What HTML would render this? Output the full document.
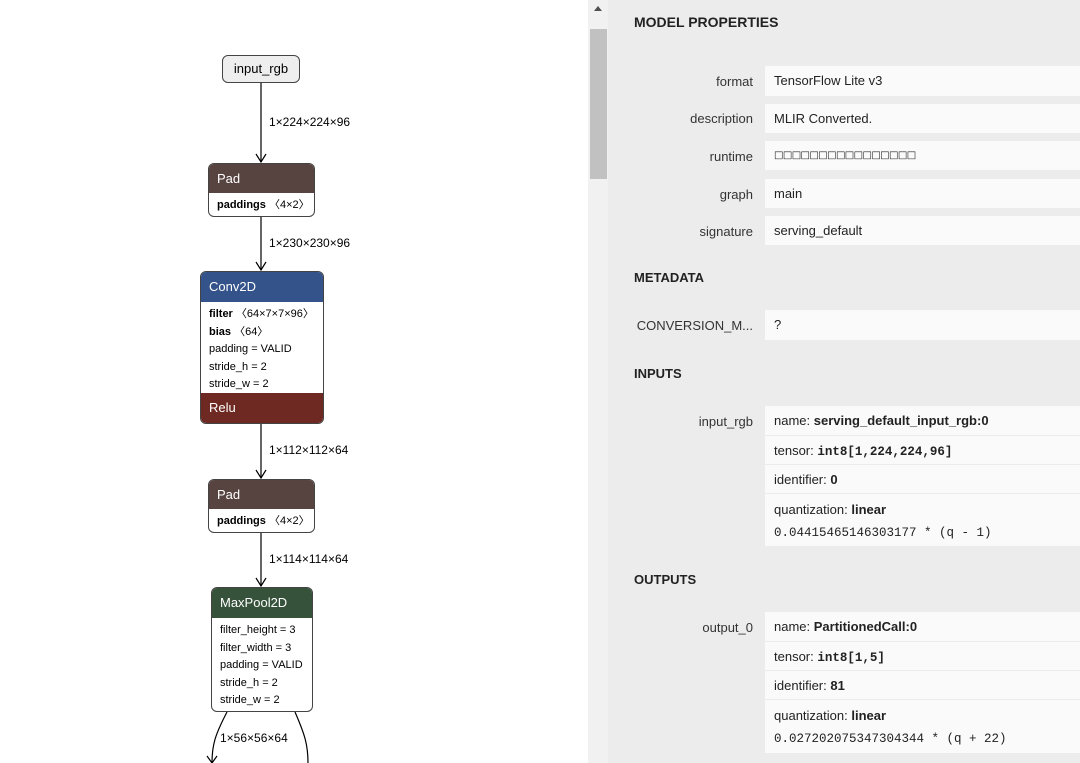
<!DOCTYPE html>
<html><head><meta charset="utf-8"><style>
body{margin:0;width:1080px;height:763px;overflow:hidden;background:#fff;font-family:"Liberation Sans",sans-serif;position:relative}
.a{position:absolute}
.t{font-size:12px;color:#000;white-space:nowrap}
.node{position:absolute;border:1px solid #444;border-radius:6px;overflow:hidden;background:#fff;box-sizing:border-box}
.hd{color:#fff;font-size:13px;padding-left:8px;box-sizing:border-box}
.at{font-size:11px;padding-left:8px;line-height:17.5px;white-space:nowrap}
.lbl{position:absolute;right:327px;font-size:13px;color:#333;text-align:right;white-space:nowrap}
.val{position:absolute;left:765px;width:315px;background:#fafafa;font-size:13px;color:#222;box-sizing:border-box;white-space:nowrap}
.sv{padding-left:9px}
.h2{position:absolute;left:634px;font-size:13px;font-weight:bold;color:#222}
.mono{font-family:"Liberation Mono","DejaVu Sans Mono",monospace;font-size:12.5px;line-height:1}
.r{padding-left:9px;box-sizing:border-box;overflow:hidden;border-bottom:1px solid #ececec}
</style></head><body>
<svg class="a" style="left:0;top:0" width="590" height="763">
<g stroke="#000" stroke-width="1.2" fill="none">
<line x1="261" y1="82" x2="261" y2="162"/><path d="M256,154 L261,162 L266,154"/>
<line x1="261" y1="217" x2="261" y2="270"/><path d="M256,262 L261,270 L266,262"/>
<line x1="261" y1="424" x2="261" y2="478"/><path d="M256,470 L261,478 L266,470"/>
<line x1="261" y1="533" x2="261" y2="586"/><path d="M256,578 L261,586 L266,578"/>
<path d="M227,712 C215,735 212,745 212,763"/><path d="M207,756 L212,763 L217,756"/>
<path d="M295,712 C305,735 308,745 308,763"/>
</g></svg>
<div class="a t" style="left:269px;top:115px">1×224×224×96</div>
<div class="a t" style="left:269px;top:236px">1×230×230×96</div>
<div class="a t" style="left:269px;top:443px">1×112×112×64</div>
<div class="a t" style="left:269px;top:552px">1×114×114×64</div>
<div class="a t" style="left:220px;top:731px">1×56×56×64</div>

<div class="node" style="left:222px;top:55px;width:78px;height:28px;background:#eee;border-radius:6px"><div style="font-size:13px;text-align:center;line-height:26px">input_rgb</div></div>

<div class="node" style="left:208px;top:163px;width:107px;height:54px"><div class="hd" style="background:#574340;height:29px;line-height:29px">Pad</div><div class="at" style="line-height:24px"><b>paddings</b> 〈4×2〉</div></div>

<div class="node" style="left:200px;top:271px;width:124px;height:153px"><div class="hd" style="background:#33538a;height:30px;line-height:30px">Conv2D</div>
<div class="at" style="padding-top:4px"><b>filter</b> 〈64×7×7×96〉<br><b>bias</b> 〈64〉<br>padding = VALID<br>stride_h = 2<br>stride_w = 2</div>
<div class="hd" style="background:#6e2a22;height:30px;line-height:30px;position:absolute;bottom:0;left:0;right:0">Relu</div></div>

<div class="node" style="left:208px;top:479px;width:107px;height:54px"><div class="hd" style="background:#574340;height:29px;line-height:29px">Pad</div><div class="at" style="line-height:24px"><b>paddings</b> 〈4×2〉</div></div>

<div class="node" style="left:211px;top:587px;width:102px;height:125px"><div class="hd" style="background:#36523a;height:30px;line-height:30px">MaxPool2D</div>
<div class="at" style="padding-top:4px">filter_height = 3<br>filter_width = 3<br>padding = VALID<br>stride_h = 2<br>stride_w = 2</div></div>

<div class="a" style="left:588px;top:0;width:20px;height:763px;background:#f1f1f1"></div>
<div class="a" style="left:590px;top:29px;width:17px;height:150px;background:#c1c1c1"></div>
<div class="a" style="left:594px;top:6px;width:0;height:0;border-left:4px solid transparent;border-right:4px solid transparent;border-bottom:5px solid #505050"></div>
<div class="a" style="left:608px;top:0;width:472px;height:763px;background:#ececec"></div>

<div class="h2" style="top:14px;font-size:14px">MODEL PROPERTIES</div>
<div class="lbl" style="top:74px">format</div><div class="val sv" style="top:66px;height:30px;line-height:30px">TensorFlow Lite v3</div>
<div class="lbl" style="top:111px">description</div><div class="val sv" style="top:104px;height:29px;line-height:29px">MLIR Converted.</div>
<div class="lbl" style="top:149px">runtime</div><div class="val sv" style="top:141px;height:29px;line-height:29px;font-family:'DejaVu Sans',sans-serif;font-size:10px;letter-spacing:-0.6px">□□□□□□□□□□□□□□□□</div>
<div class="lbl" style="top:187px">graph</div><div class="val sv" style="top:179px;height:29px;line-height:29px">main</div>
<div class="lbl" style="top:224px">signature</div><div class="val sv" style="top:216px;height:29px;line-height:29px">serving_default</div>

<div class="h2" style="top:270px">METADATA</div>
<div class="lbl" style="top:318px">CONVERSION_M...</div><div class="val sv" style="top:310px;height:30px;line-height:30px">?</div>

<div class="h2" style="top:366px">INPUTS</div>
<div class="lbl" style="top:414px">input_rgb</div>
<div class="val" style="top:406px;height:140px">
<div class="r" style="height:30px;line-height:30px">name: <b>serving_default_input_rgb:0</b></div>
<div class="r" style="height:29px;line-height:29px">tensor: <b class="mono">int8[1,224,224,96]</b></div>
<div class="r" style="height:29px;line-height:29px">identifier: <b>0</b></div>
<div class="r" style="height:52px;line-height:22px;padding-top:5px;border:0">quantization: <b>linear</b><br><span class="mono">0.04415465146303177 * (q - 1)</span></div>
</div>

<div class="h2" style="top:572px">OUTPUTS</div>
<div class="lbl" style="top:620px">output_0</div>
<div class="val" style="top:612px;height:141px">
<div class="r" style="height:30px;line-height:30px">name: <b>PartitionedCall:0</b></div>
<div class="r" style="height:29px;line-height:29px">tensor: <b class="mono">int8[1,5]</b></div>
<div class="r" style="height:29px;line-height:29px">identifier: <b>81</b></div>
<div class="r" style="height:53px;line-height:22px;padding-top:5px;border:0">quantization: <b>linear</b><br><span class="mono">0.027202075347304344 * (q + 22)</span></div>
</div>
</body></html>
